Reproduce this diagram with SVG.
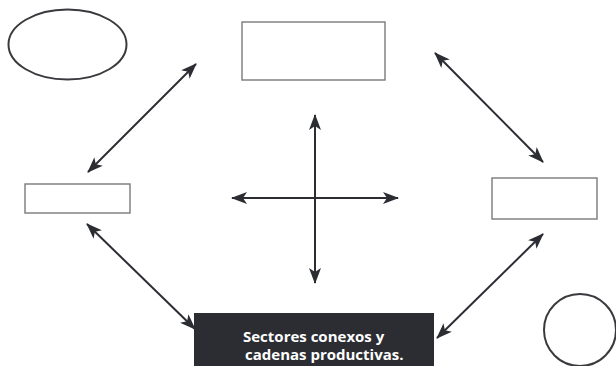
<svg xmlns="http://www.w3.org/2000/svg" width="616" height="366" viewBox="0 0 616 366">
  <defs>
    <marker id="head" viewBox="0 0 16 12" refX="15" refY="6" markerWidth="16" markerHeight="12" markerUnits="userSpaceOnUse" orient="auto-start-reverse">
      <path d="M0,0 L16,6 L0,12 L4,6 Z" fill="#2b2d33"/>
    </marker>
  </defs>
  <style>
    .box { fill: #ffffff; stroke: #7a7a7a; stroke-width: 1.4; }
    .shape { fill: #ffffff; stroke: #3a3a3e; stroke-width: 2; }
    .link { stroke: #2b2d33; stroke-width: 2; fill: none; marker-start: url(#head); marker-end: url(#head); }
    .label { font-family: "Open Sans", "Liberation Sans", sans-serif; font-weight: bold; font-size: 15px; fill: #ffffff; }
  </style>
  <rect width="616" height="366" fill="#ffffff"/>

  <g id="ellipse-node">
    <ellipse class="shape" cx="67.5" cy="44.5" rx="59" ry="35"/>
  </g>
  <g id="top-box">
    <rect class="box" x="242" y="22" width="143" height="58"/>
  </g>
  <g id="left-box">
    <rect class="box" x="25" y="184" width="105" height="29"/>
  </g>
  <g id="right-box">
    <rect class="box" x="492" y="178" width="105" height="41"/>
  </g>
  <g id="circle-node">
    <circle class="shape" cx="580" cy="330" r="36"/>
  </g>
  <g id="sectores">
    <rect x="194" y="313" width="240" height="60" fill="#2b2d33"/>
    <text class="label" x="243" y="342">Sectores conexos y</text>
    <text class="label" x="245" y="360">cadenas productivas.</text>
  </g>

  <g id="connectors">
    <line class="link" x1="196" y1="64" x2="88" y2="172"/>
    <line class="link" x1="435" y1="53" x2="543" y2="162"/>
    <line class="link" x1="87" y1="224" x2="195" y2="329"/>
    <line class="link" x1="543" y1="234" x2="437" y2="338"/>
    <line class="link" x1="315" y1="115" x2="315" y2="283"/>
    <line class="link" x1="232" y1="198" x2="398" y2="198"/>
  </g>
</svg>
